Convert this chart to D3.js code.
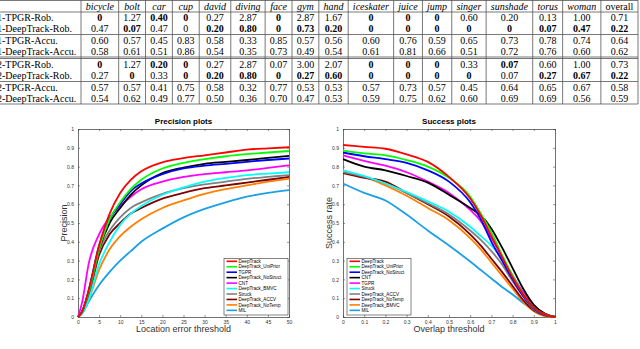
<!DOCTYPE html>
<html>
<head>
<meta charset="utf-8">
<script src="https://cdn.jsdelivr.net/npm/d3@7"></script>
<style>
  body { margin: 0; background: #fff; }
  svg { display: block; }
</style>
</head>
<body>
<div id="wrapper"></div>
<script>
// ---- table data
const categories = ["bicycle", "bolt", "car", "cup", "david", "diving", "face", "gym", "hand",
  "iceskater", "juice", "jump", "singer", "sunshade", "torus", "woman", "overall"]
const rowLabels = ["1-TPGR-Rob.", "1-DeepTrack-Rob.", "1-TPGR-Accu.", "1-DeepTrack-Accu.",
  "2-TPGR-Rob.", "2-DeepTrack-Rob.", "2-TPGR-Accu.", "2-DeepTrack-Accu."]
const tableValues = [
  ["0", "1.27", "0.40", "0", "0.27", "2.87", "0", "2.87", "1.67", "0", "0", "0", "0.60", "0.20", "0.13", "1.00", "0.71"],
  ["0.47", "0.07", "0.47", "0", "0.20", "0.80", "0", "0.73", "0.20", "0", "0", "0", "0", "0", "0.07", "0.47", "0.22"],
  ["0.60", "0.57", "0.45", "0.83", "0.58", "0.33", "0.85", "0.57", "0.56", "0.60", "0.76", "0.59", "0.65", "0.73", "0.78", "0.74", "0.64"],
  ["0.58", "0.61", "0.51", "0.86", "0.54", "0.35", "0.73", "0.49", "0.54", "0.61", "0.81", "0.66", "0.51", "0.72", "0.76", "0.60", "0.62"],
  ["0", "1.27", "0.20", "0", "0.27", "2.87", "0.07", "3.00", "2.07", "0", "0", "0", "0.33", "0.07", "0.60", "1.00", "0.73"],
  ["0.27", "0", "0.33", "0", "0.20", "0.80", "0", "0.27", "0.60", "0", "0", "0", "0", "0.07", "0.27", "0.67", "0.22"],
  ["0.57", "0.57", "0.41", "0.75", "0.58", "0.32", "0.77", "0.53", "0.53", "0.57", "0.73", "0.57", "0.45", "0.64", "0.65", "0.67", "0.58"],
  ["0.54", "0.62", "0.49", "0.77", "0.50", "0.36", "0.70", "0.47", "0.53", "0.59", "0.75", "0.62", "0.60", "0.69", "0.69", "0.56", "0.59"]
]
// 1 = bold entry (best per sequence)
const tableBold = [
  [1,0,1,1,0,0,1,0,0,1,1,1,0,0,0,0,0],
  [0,1,0,0,1,1,1,1,1,1,1,1,1,1,1,1,1],
  [0,0,0,0,0,0,0,0,0,0,0,0,0,0,0,0,0],
  [0,0,0,0,0,0,0,0,0,0,0,0,0,0,0,0,0],
  [1,0,1,1,0,0,0,0,0,1,1,1,0,1,0,0,0],
  [0,1,0,1,1,1,1,1,1,1,1,1,1,0,1,1,1],
  [0,0,0,0,0,0,0,0,0,0,0,0,0,0,0,0,0],
  [0,0,0,0,0,0,0,0,0,0,0,0,0,0,0,0,0]
]

// ---- precision plot data (x = location error threshold)
const precX = [0, 1, 2.5, 5, 7.5, 10, 12.5, 15, 20, 25, 30, 35, 40, 45, 50]
const precNames = ["DeepTrack", "DeepTrack_UniPrior", "TGPR", "DeepTrack_NoStruct", "CNT",
  "DeepTrack_BMVC", "Struck", "DeepTrack_ACCV", "DeepTrack_NoTemp", "MIL"]
const precColors = ["#ff0000", "#00ff00", "#0000ff", "#000000", "#ff00ff",
  "#00ffff", "#808080", "#7f0000", "#ff8000", "#1aa0e6"]
const precValues = [
  [0, 0.03, 0.14, 0.38, 0.55, 0.66, 0.73, 0.775, 0.823, 0.845, 0.86, 0.875, 0.89, 0.897, 0.903],
  [0, 0.03, 0.13, 0.36, 0.52, 0.61, 0.68, 0.73, 0.79, 0.82, 0.84, 0.855, 0.866, 0.875, 0.883],
  [0, 0.03, 0.14, 0.38, 0.52, 0.60, 0.67, 0.71, 0.76, 0.79, 0.805, 0.815, 0.825, 0.835, 0.843],
  [0, 0.03, 0.13, 0.36, 0.50, 0.58, 0.65, 0.70, 0.765, 0.795, 0.815, 0.825, 0.835, 0.846, 0.857],
  [0, 0.08, 0.28, 0.44, 0.53, 0.59, 0.64, 0.68, 0.72, 0.745, 0.76, 0.77, 0.78, 0.793, 0.807],
  [0, 0.02, 0.09, 0.28, 0.40, 0.49, 0.55, 0.59, 0.65, 0.69, 0.72, 0.74, 0.755, 0.763, 0.77],
  [0, 0.03, 0.12, 0.35, 0.46, 0.53, 0.58, 0.61, 0.655, 0.685, 0.705, 0.72, 0.735, 0.745, 0.755],
  [0, 0.03, 0.11, 0.33, 0.44, 0.50, 0.55, 0.58, 0.63, 0.66, 0.685, 0.70, 0.715, 0.73, 0.745],
  [0, 0.02, 0.09, 0.25, 0.36, 0.43, 0.48, 0.52, 0.58, 0.62, 0.655, 0.68, 0.70, 0.72, 0.735],
  [0, 0.02, 0.08, 0.17, 0.24, 0.30, 0.35, 0.40, 0.47, 0.53, 0.575, 0.61, 0.64, 0.66, 0.675]
]

// ---- success plot data (x = overlap threshold)
const succX = [0, 0.1, 0.2, 0.3, 0.4, 0.5, 0.6, 0.65, 0.7, 0.75, 0.8, 0.85, 0.9, 0.95, 1]
const succNames = ["DeepTrack", "DeepTrack_UniPrior", "DeepTrack_NoStruct", "CNT", "TGPR",
  "Struck", "DeepTrack_ACCV", "DeepTrack_NoTemp", "DeepTrack_BMVC", "MIL"]
const succColors = ["#ff0000", "#00ff00", "#0000ff", "#000000", "#ff00ff",
  "#00ffff", "#808080", "#7f0000", "#ff8000", "#1aa0e6"]
const succValues = [
  [0.915, 0.905, 0.895, 0.865, 0.825, 0.745, 0.63, 0.54, 0.43, 0.32, 0.21, 0.12, 0.05, 0.015, 0],
  [0.885, 0.87, 0.86, 0.835, 0.80, 0.74, 0.64, 0.55, 0.45, 0.33, 0.22, 0.12, 0.05, 0.015, 0],
  [0.875, 0.855, 0.84, 0.82, 0.78, 0.72, 0.61, 0.52, 0.40, 0.30, 0.20, 0.11, 0.045, 0.012, 0],
  [0.84, 0.80, 0.78, 0.75, 0.715, 0.65, 0.58, 0.54, 0.47, 0.37, 0.26, 0.15, 0.065, 0.02, 0],
  [0.86, 0.83, 0.805, 0.77, 0.72, 0.66, 0.57, 0.51, 0.42, 0.32, 0.22, 0.13, 0.055, 0.015, 0],
  [0.78, 0.75, 0.71, 0.665, 0.615, 0.56, 0.48, 0.43, 0.38, 0.31, 0.22, 0.13, 0.05, 0.015, 0],
  [0.77, 0.745, 0.71, 0.66, 0.605, 0.545, 0.46, 0.41, 0.35, 0.28, 0.19, 0.11, 0.04, 0.012, 0],
  [0.765, 0.74, 0.72, 0.66, 0.60, 0.535, 0.44, 0.38, 0.31, 0.24, 0.165, 0.09, 0.035, 0.01, 0],
  [0.78, 0.745, 0.70, 0.645, 0.58, 0.515, 0.42, 0.36, 0.29, 0.22, 0.15, 0.08, 0.03, 0.005, 0],
  [0.71, 0.66, 0.62, 0.545, 0.46, 0.38, 0.295, 0.25, 0.205, 0.16, 0.12, 0.075, 0.04, 0.015, 0]
]

const width = 640
const height = 349

const svg = d3.select("#wrapper")
  .append("svg")
    .attr("width", width)
    .attr("height", height)

// ---------------- table
function drawTable() {
  const fontFamily = "'Liberation Serif', 'DejaVu Serif', serif"
  const fontSize = 10
  const table = svg.append("g").attr("class", "table")

  // measure widest entry per column
  const measure = table.append("text")
    .style("font-family", fontFamily)
    .style("font-size", `${fontSize}px`)
  function textWidth(t, bold, italic) {
    measure.text(t)
      .style("font-weight", bold ? "bold" : "normal")
      .style("font-style", italic ? "italic" : "normal")
    return measure.node().getComputedTextLength()
  }
  const labelWidth = d3.max(rowLabels, d => textWidth(d, false, false))
  const colWidths = categories.map((c, j) => {
    const head = textWidth(c, false, c != "overall")
    const vals = tableValues.map((row, i) => textWidth(row[j], tableBold[i][j], false))
    return Math.max(head, d3.max(vals))
  })
  measure.remove()

  const rightEdge = 638
  const labelStart = -3
  const pad = (rightEdge - labelStart - labelWidth - d3.sum(colWidths)) / (2 * categories.length + 1)

  const xEdges = [labelStart + labelWidth + pad]
  colWidths.forEach(w => xEdges.push(xEdges[xEdges.length - 1] + w + 2 * pad))

  const headerH = 12
  const rowH = 11
  const rowTop = i => headerH + i * rowH + (i >= 2 ? 1 : 0) + (i >= 4 ? 2 : 0) + (i >= 6 ? 1 : 0)
  const bottom = rowTop(8)

  const lineColor = "#555"
  const hline = y => table.append("line")
    .attr("x1", -10).attr("x2", rightEdge).attr("y1", y).attr("y2", y)
    .attr("stroke", lineColor).attr("stroke-width", 0.8)

  hline(0.5)
  hline(headerH)
  hline(rowTop(2) - 0.5)
  hline(rowTop(4) - 2)
  hline(rowTop(4) - 0.5)
  hline(rowTop(6) - 0.5)
  hline(bottom)

  xEdges.forEach(x => {
    table.append("line")
      .attr("x1", x).attr("x2", x).attr("y1", 0).attr("y2", bottom)
      .attr("stroke", lineColor).attr("stroke-width", 0.8)
  })

  // header
  categories.forEach((c, j) => {
    table.append("text")
      .attr("x", (xEdges[j] + xEdges[j + 1]) / 2)
      .attr("y", headerH / 2)
      .attr("dy", "0.35em")
      .attr("text-anchor", "middle")
      .style("font-family", fontFamily)
      .style("font-size", `${fontSize}px`)
      .style("font-style", c == "overall" ? "normal" : "italic")
      .text(c)
  })

  // body
  rowLabels.forEach((label, i) => {
    const cy = rowTop(i) + rowH / 2
    table.append("text")
      .attr("x", labelStart)
      .attr("y", cy)
      .attr("dy", "0.35em")
      .style("font-family", fontFamily)
      .style("font-size", `${fontSize}px`)
      .text(label)
    tableValues[i].forEach((v, j) => {
      table.append("text")
        .attr("x", (xEdges[j] + xEdges[j + 1]) / 2)
        .attr("y", cy)
        .attr("dy", "0.35em")
        .attr("text-anchor", "middle")
        .style("font-family", fontFamily)
        .style("font-size", `${fontSize}px`)
        .style("font-weight", tableBold[i][j] ? "bold" : "normal")
        .text(v)
    })
  })
}

// ---------------- plots
function drawPlot(opts) {
  const { left, right, top, bottom, xDomain, xTicks, xs, series, names, colors,
    title, xLabel, yLabel, legendX } = opts
  const sans = "'Liberation Sans', Arial, sans-serif"
  const g = svg.append("g")

  const xScale = d3.scaleLinear().domain(xDomain).range([left, right])
  const yScale = d3.scaleLinear().domain([0, 1]).range([bottom, top])

  const axisColor = "#4d4d4d"

  // ticks inward, MATLAB style
  const xAxis = g.append("g")
    .attr("transform", `translate(0,${bottom})`)
    .call(d3.axisBottom(xScale).tickValues(xTicks).tickSize(-2).tickPadding(3)
      .tickFormat(d3.format("~g")))
  const xAxisTop = g.append("g")
    .attr("transform", `translate(0,${top})`)
    .call(d3.axisTop(xScale).tickValues(xTicks).tickSize(-2).tickFormat(""))
  const yAxis = g.append("g")
    .attr("transform", `translate(${left},0)`)
    .call(d3.axisLeft(yScale).tickValues(d3.range(0, 1.01, 0.1)).tickSize(-2).tickPadding(4)
      .tickFormat(d3.format("~g")))
  const yAxisRight = g.append("g")
    .attr("transform", `translate(${right},0)`)
    .call(d3.axisRight(yScale).tickValues(d3.range(0, 1.01, 0.1)).tickSize(-2).tickFormat(""))

  ;[xAxis, xAxisTop, yAxis, yAxisRight].forEach(a => {
    a.select(".domain").attr("stroke", axisColor).attr("stroke-width", 0.8)
    a.selectAll(".tick line").attr("stroke", axisColor).attr("stroke-width", 0.6)
    a.selectAll(".tick text")
      .style("font-family", sans)
      .style("font-size", "5px")
      .attr("fill", "#333")
  })

  // curves
  const line = d3.line()
    .x((d, i) => xScale(xs[i]))
    .y(d => yScale(d))
    .curve(d3.curveMonotoneX)

  g.append("g").selectAll("path")
    .data(series.map((s, k) => ({ s, k })).reverse())
    .enter().append("path")
      .attr("d", d => line(d.s))
      .attr("fill", "none")
      .attr("stroke", d => colors[d.k])
      .attr("stroke-width", 1.8)
      .attr("stroke-linejoin", "round")

  // title and labels
  g.append("text")
    .attr("x", (left + right) / 2)
    .attr("y", top - 5)
    .attr("text-anchor", "middle")
    .style("font-family", sans)
    .style("font-size", "8px")
    .style("font-weight", "bold")
    .text(title)

  g.append("text")
    .attr("x", (left + right) / 2)
    .attr("y", bottom + 15)
    .attr("text-anchor", "middle")
    .attr("fill", "#333")
    .style("font-family", sans)
    .style("font-size", "9px")
    .text(xLabel)

  g.append("text")
    .attr("transform", `translate(${left - 11},${(top + bottom) / 2}) rotate(-90)`)
    .attr("text-anchor", "middle")
    .attr("fill", "#333")
    .style("font-family", sans)
    .style("font-size", "9px")
    .text(yLabel)

  // legend
  const legendW = 64
  const legendTop = 258.5
  const itemH = 5.45
  const legend = g.append("g")
  legend.append("rect")
    .attr("x", legendX).attr("y", legendTop)
    .attr("width", legendW).attr("height", itemH * names.length + 2)
    .attr("fill", "#fff")
    .attr("stroke", "#333").attr("stroke-width", 0.6)
  names.forEach((n, k) => {
    const y = legendTop + 2.8 + k * itemH
    legend.append("line")
      .attr("x1", legendX + 2.5).attr("x2", legendX + 13)
      .attr("y1", y).attr("y2", y)
      .attr("stroke", colors[k]).attr("stroke-width", 1.6)
    legend.append("text")
      .attr("x", legendX + 14.5).attr("y", y)
      .attr("dy", "0.35em")
      .style("font-family", sans)
      .style("font-size", "4.6px")
      .text(n)
  })
}

drawTable()

drawPlot({
  left: 78, right: 289, top: 129, bottom: 317,
  xDomain: [0, 50], xTicks: d3.range(0, 51, 5),
  xs: precX, series: precValues, names: precNames, colors: precColors,
  title: "Precision plots", xLabel: "Location error threshold", yLabel: "Precision",
  legendX: 224
})

drawPlot({
  left: 343, right: 555, top: 129, bottom: 317,
  xDomain: [0, 1], xTicks: d3.range(0, 1.01, 0.1),
  xs: succX, series: succValues, names: succNames, colors: succColors,
  title: "Success plots", xLabel: "Overlap threshold", yLabel: "Success rate",
  legendX: 347
})
</script>
</body>
</html>
